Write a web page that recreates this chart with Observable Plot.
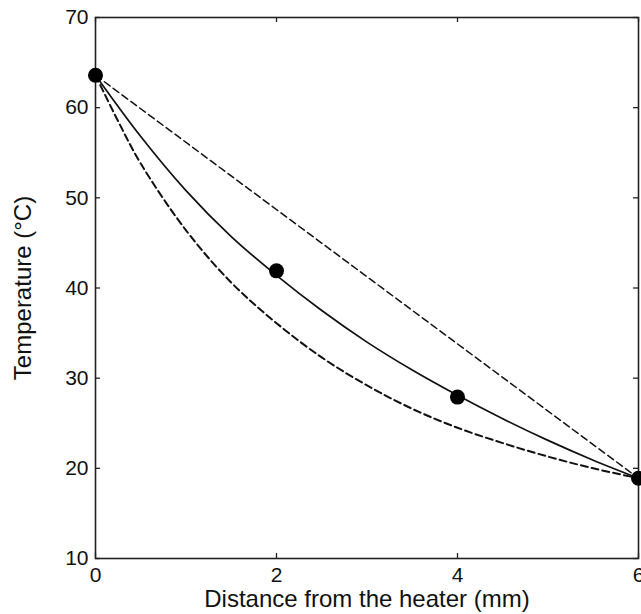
<!DOCTYPE html>
<html>
<head>
<meta charset="utf-8">
<script src="https://cdn.jsdelivr.net/npm/d3@7"></script>
<script src="https://cdn.jsdelivr.net/npm/@observablehq/plot@0.6"></script>
<style>
  html, body { margin: 0; padding: 0; background: #fff; overflow: hidden; }
  #chart svg { overflow: visible; }
</style>
</head>
<body>
<div id="chart"></div>
<script>
// Measured points
const measX = [0, 2, 4, 6];
const measT = [63.6, 41.9, 27.9, 18.9];

// Solid fitted curve
const solidX = [0, 0.5, 1, 1.5, 2, 2.5, 3, 3.5, 4, 4.5, 5, 5.5, 6];
const solidT = [63.6, 56.8, 50.8, 45.7, 41.4, 37.5, 34.0, 30.9, 28.1, 25.5, 23.1, 20.9, 18.9];

// Lower dashed curve
const lowerX = [0, 0.25, 0.5, 1, 1.5, 2, 2.5, 3, 3.5, 4, 4.5, 5, 5.5, 6];
const lowerT = [63.6, 58.5, 53.8, 46.4, 40.6, 36.1, 32.3, 29.2, 26.6, 24.5, 22.8, 21.3, 20.0, 18.9];

// Upper dashed (straight) line
const upperX = [0, 6];
const upperT = [63.6, 18.9];

const xTicks = [0, 2, 4, 6];
const yTicks = [10, 20, 30, 40, 50, 60, 70];

const zip = (xs, ys) => xs.map((x, i) => ({x, y: ys[i]}));

const W = 641, H = 614;
const mL = 95, mR = 3, mT = 17, mB = 56;
const pw = W - mL - mR, ph = H - mT - mB;
const font = "'Liberation Sans', Arial, Helvetica, sans-serif";

const chart = Plot.plot({
  width: W,
  height: H,
  marginLeft: mL,
  marginRight: mR,
  marginTop: mT,
  marginBottom: mB,
  style: {fontFamily: font, color: "#111", background: "#fff"},
  x: {domain: [0, 6]},
  y: {domain: [10, 70]},
  marks: [
    Plot.frame({stroke: "#222", strokeWidth: 1.6}),
    // inward ticks
    Plot.tickY(yTicks, {y: d => d, insetRight: pw - 5, stroke: "#222", strokeWidth: 1.3}),
    Plot.tickY(yTicks, {y: d => d, insetLeft: pw - 5, stroke: "#222", strokeWidth: 1.3}),
    Plot.tickX(xTicks, {x: d => d, insetTop: ph - 5, stroke: "#222", strokeWidth: 1.3}),
    Plot.tickX(xTicks, {x: d => d, insetBottom: ph - 5, stroke: "#222", strokeWidth: 1.3}),
    Plot.axisY(yTicks, {tickSize: 0, tickPadding: 7, fontSize: 21, label: null}),
    Plot.axisX(xTicks, {tickSize: 0, tickPadding: 9, fontSize: 21, label: null}),
    Plot.text(["Temperature (°C)"], {frameAnchor: "left", dx: -72, rotate: -90, fontSize: 24, textAnchor: "middle", fill: "#111"}),
    Plot.text(["Distance from the heater (mm)"], {frameAnchor: "bottom", dy: 41, fontSize: 24, textAnchor: "middle", lineAnchor: "middle", fill: "#111"}),
    Plot.line(zip(upperX, upperT), {x: "x", y: "y", stroke: "#111", strokeWidth: 1.5, strokeDasharray: "7,4"}),
    Plot.line(zip(lowerX, lowerT), {x: "x", y: "y", stroke: "#111", strokeWidth: 2, strokeDasharray: "7,4", curve: "catmull-rom"}),
    Plot.line(zip(solidX, solidT), {x: "x", y: "y", stroke: "#111", strokeWidth: 1.7, curve: "catmull-rom"}),
    Plot.dot(zip(measX, measT), {x: "x", y: "y", r: 7.5, fill: "#000", stroke: "none"})
  ]
});

document.getElementById("chart").appendChild(chart);
</script>
</body>
</html>
